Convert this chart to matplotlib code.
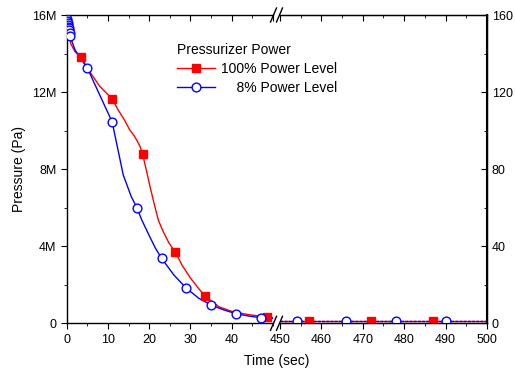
import numpy as np
import matplotlib
matplotlib.use("Agg")
import matplotlib.pyplot as plt
from matplotlib.ticker import MultipleLocator, FixedLocator
from matplotlib.lines import Line2D

plt.rcParams['font.family'] = ['Liberation Sans', 'DejaVu Sans']

# data (time in s, pressure in MPa)
red_line_t = [0, 0.5, 1, 2, 3.5, 5.6, 8, 11, 12.5, 14, 15.3, 16.3, 17, 17.8, 18.4, 19.3, 20.2, 21.2, 22.2, 23.3,
              24.7, 26.3, 28, 30, 32, 33.5, 35, 37, 40, 44, 48.5, 50]
red_line_p = [15.6, 15.0, 14.5, 14.1, 13.8, 13.05, 12.3, 11.65, 11.06, 10.55, 10.03, 9.75, 9.5, 9.16, 8.77, 7.95, 7.09,
              6.2, 5.36, 4.8, 4.2, 3.7, 3.0, 2.35, 1.8, 1.42, 1.15, 0.85, 0.62, 0.45, 0.33, 0.3]
red_mark_t = [3.5, 11, 18.4, 26.3, 33.5, 48.5]
red_mark_p = [13.8, 11.65, 8.77, 3.7, 1.42, 0.33]

blue_line_t = [0, 0.1, 0.2, 0.3, 0.4, 0.5, 0.6, 0.7, 0.8, 2, 3.5, 5, 8, 11, 12.1, 13.7, 15.6, 17, 18.2, 20, 21.5,
               23, 26, 29, 32, 35, 38, 41, 44, 47, 50]
blue_line_p = [15.8, 15.7, 15.6, 15.5, 15.4, 15.3, 15.2, 15.05, 14.9, 14.2, 13.7, 13.25, 11.85, 10.46, 9.34, 7.7,
               6.6, 6.0, 5.36, 4.55, 3.9, 3.37, 2.5, 1.82, 1.3, 0.95, 0.7, 0.5, 0.38, 0.29, 0.25]
blue_mark_t = [0, 0.1, 0.2, 0.3, 0.4, 0.5, 0.6, 0.7, 0.8, 5, 11, 17, 23, 29, 35, 41, 47]
blue_mark_p = [15.8, 15.7, 15.6, 15.5, 15.4, 15.3, 15.2, 15.05, 14.9, 13.25, 10.46, 6.0, 3.37, 1.82, 0.95, 0.5, 0.29]

late_line_t = [450, 500]
late_red_p = [0.13, 0.13]
late_blue_p = [0.13, 0.13]
late_red_mark_t = [457, 472, 487]
late_blue_mark_t = [454, 466, 478, 490]
late_mark_p = 0.13

left_ticks = [0, 4, 8, 12, 16]
left_labels = ['0', '4M', '8M', '12M', '16M']
right_ticks = [0, 40, 80, 120, 160]

W, H = 515, 376
fig = plt.figure(figsize=(W / 100, H / 100), dpi=100)
bot = 1 - 323.3 / H
top = 1 - 15 / H
ax1 = fig.add_axes([66.7 / W, bot, (273 - 66.7) / W, top - bot])
ax2 = fig.add_axes([280 / W, bot, (487 - 280) / W, top - bot])

red = '#ff0000'
blue = '#0000ff'
sq = dict(marker='s', color=red, markersize=5.2, linestyle='none', zorder=4)
circ = dict(marker='o', markerfacecolor='white', markeredgecolor=blue, markersize=6.3,
            markeredgewidth=1, linestyle='none', zorder=5)

ax1.plot(red_line_t, red_line_p, color=red, lw=1, zorder=2)
ax1.plot(blue_line_t, blue_line_p, color=blue, lw=1, zorder=3)
ax1.plot(red_mark_t, red_mark_p, **sq)
ax1.plot(blue_mark_t, blue_mark_p, **circ)

ax2.plot(late_line_t, late_red_p, color=red, lw=1, zorder=2)
ax2.plot(late_line_t, late_blue_p, color=blue, lw=1, ls=(0, (2, 1)), zorder=3)
ax2.plot(late_red_mark_t, [late_mark_p] * len(late_red_mark_t), **sq)
ax2.plot(late_blue_mark_t, [late_mark_p] * len(late_blue_mark_t), **circ)

for ax in (ax1, ax2):
    ax.set_ylim(0, 16)
    ax.tick_params(axis='x', which='both', direction='out', labelsize=9, top=False)
    ax.tick_params(axis='x', which='major', length=4)
    ax.tick_params(axis='x', which='minor', length=2)
    ax.xaxis.set_minor_locator(MultipleLocator(5))
    ax.xaxis.set_major_locator(MultipleLocator(10))
    for s in ax.spines.values():
        s.set_linewidth(1)
    # top ticks point inward
    sec = ax.secondary_xaxis('top')
    sec.tick_params(axis='x', which='both', direction='in', labeltop=False)
    sec.tick_params(which='major', length=4)
    sec.tick_params(which='minor', length=2)
    sec.xaxis.set_major_locator(MultipleLocator(10))
    sec.xaxis.set_minor_locator(MultipleLocator(5))
    sec.spines['top'].set_visible(False)

ax1.set_xlim(0, 50)
ax1.set_xticks([0, 10, 20, 30, 40])
ax2.set_xlim(450, 500)
ax1.spines['right'].set_visible(False)
ax2.spines['left'].set_visible(False)

ax1.yaxis.set_major_locator(FixedLocator(left_ticks))
ax1.set_yticklabels(left_labels)
ax1.yaxis.set_minor_locator(MultipleLocator(2))
ax1.tick_params(axis='y', which='both', direction='out', labelsize=9)
ax1.tick_params(axis='y', which='major', length=4)
ax1.tick_params(axis='y', which='minor', length=2)
ax1.set_ylabel('Pressure (Pa)', fontsize=10, labelpad=4)

ax3 = ax2.twinx()
ax2.tick_params(axis='y', which='both', left=False, right=False, labelleft=False, labelright=False)
ax3.set_ylim(0, 160)
ax3.spines['left'].set_visible(False)
ax3.spines['right'].set_linewidth(1.5)
ax3.yaxis.set_major_locator(FixedLocator(right_ticks))
ax3.yaxis.set_minor_locator(MultipleLocator(20))
ax3.tick_params(axis='y', which='both', direction='in', labelsize=9, left=False)
ax3.tick_params(axis='y', which='major', length=4)
ax3.tick_params(axis='y', which='minor', length=2)

fig.text((66.7 + 487) / 2 / W, 1 - 368 / H, 'Time (sec)', ha='center', va='bottom', fontsize=10)

# break marks
for yb in (bot, top):
    for xb in (273.5, 279.5):
        fig.add_artist(Line2D([(xb - 3) / W, (xb + 3) / W], [yb - 7 / H, yb + 7 / H],
                              color='black', lw=1))

# legend
handles = [Line2D([], [], color=red, lw=1, marker='s', markersize=5.2),
           Line2D([], [], color=blue, lw=1, marker='o', markerfacecolor='white',
                  markeredgecolor=blue, markersize=6.3)]
leg = fig.legend(handles, ['100% Power Level', '    8% Power Level'],
                 title='Pressurizer Power', frameon=False, fontsize=10, title_fontsize=10,
                 loc='upper left', bbox_to_anchor=(177 / W, 1 - 43 / H),
                 handlelength=2.7, handletextpad=0.5, labelspacing=0.35, borderpad=0,
                 borderaxespad=0)
leg._legend_box.align = 'left'
leg.set_zorder(10)

fig.savefig('out.png', dpi=100)
